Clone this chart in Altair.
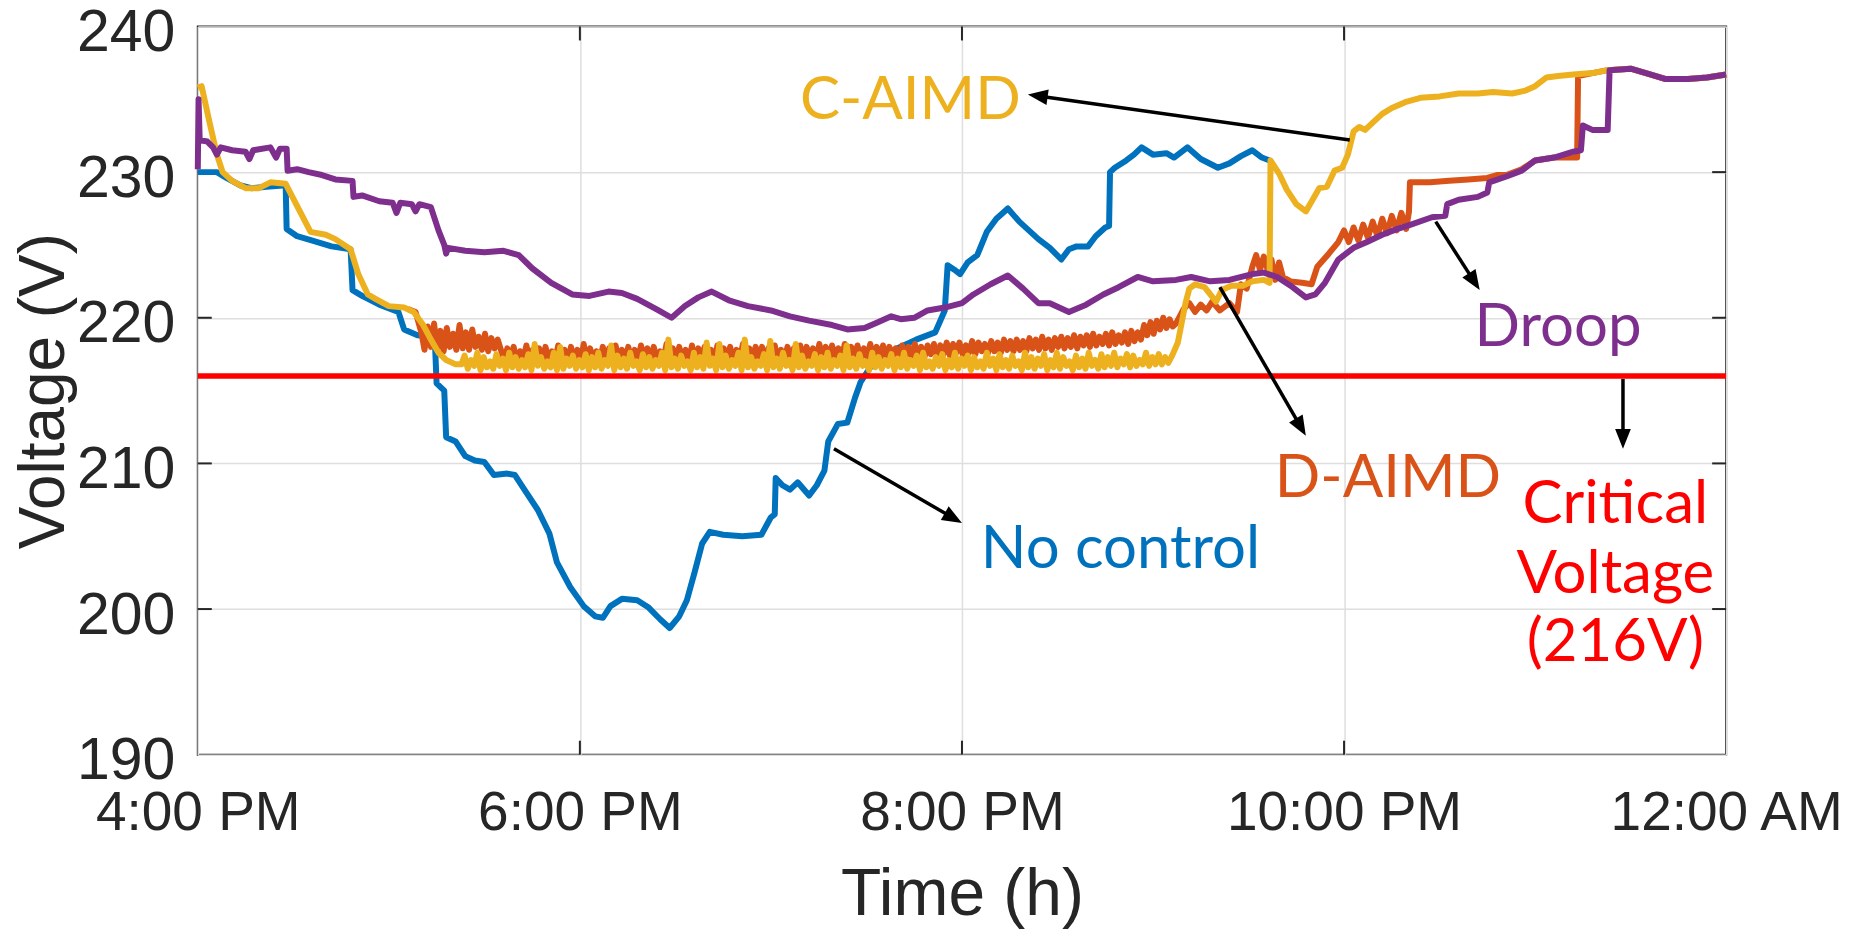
import math
import altair as alt
import pandas as pd

# ---------------- axis ticks ----------------
X_TICKS = [16, 18, 20, 22, 24]
X_TICK_LABELS = ["4:00 PM", "6:00 PM", "8:00 PM", "10:00 PM", "12:00 AM"]
Y_TICKS = [190, 200, 210, 220, 230, 240]
CRITICAL_V = 216.0

# ---------------- series (time in hours, voltage in V) ----------------
NO_CONTROL = [
    (16.00, 230.0), (16.10, 230.0), (16.15, 229.6), (16.22, 229.1), (16.28, 228.9), (16.36, 229.0),
    (16.46, 229.1), (16.465, 226.1), (16.52, 225.6), (16.60, 225.3), (16.70, 224.9), (16.80, 224.7),
    (16.81, 221.9), (16.86, 221.5), (16.95, 220.9), (17.05, 220.4), (17.08, 219.2), (17.15, 218.8),
    (17.24, 218.7), (17.25, 215.5), (17.29, 215.0), (17.30, 211.8), (17.35, 211.5), (17.40, 210.5),
    (17.45, 210.2), (17.50, 210.1), (17.55, 209.2), (17.62, 209.3), (17.66, 209.2), (17.72, 208.0),
    (17.78, 206.8), (17.84, 205.2), (17.88, 203.2), (17.95, 201.5), (18.02, 200.2), (18.08, 199.5),
    (18.12, 199.4), (18.16, 200.2), (18.22, 200.7), (18.30, 200.6), (18.36, 200.1), (18.42, 199.3),
    (18.47, 198.7), (18.52, 199.5), (18.56, 200.6), (18.60, 202.5), (18.64, 204.5), (18.68, 205.3),
    (18.75, 205.1), (18.85, 205.0), (18.95, 205.1), (19.00, 206.3), (19.02, 206.5), (19.025, 209.0),
    (19.06, 208.5), (19.10, 208.2), (19.14, 208.7), (19.20, 207.8), (19.24, 208.5), (19.28, 209.5),
    (19.30, 211.5), (19.35, 212.7), (19.40, 212.8), (19.44, 214.5), (19.47, 215.6), (19.52, 216.6),
    (19.58, 217.3), (19.66, 217.9), (19.76, 218.5), (19.86, 219.0), (19.91, 220.5), (19.925, 223.6),
    (19.96, 223.3), (19.99, 223.0), (20.03, 223.8), (20.08, 224.3), (20.13, 225.9), (20.18, 226.8),
    (20.24, 227.5), (20.30, 226.6), (20.35, 226.0), (20.40, 225.4), (20.46, 224.8), (20.52, 224.0),
    (20.56, 224.7), (20.60, 224.9), (20.66, 224.9), (20.70, 225.6), (20.75, 226.2), (20.77, 226.3),
    (20.775, 230.0), (20.80, 230.3), (20.86, 230.8), (20.90, 231.2), (20.94, 231.7), (21.00, 231.2),
    (21.07, 231.3), (21.11, 231.0), (21.18, 231.7), (21.25, 230.9), (21.34, 230.3), (21.40, 230.6),
    (21.46, 231.1), (21.52, 231.5), (21.57, 231.0), (21.61, 230.8),
]

NOISE_STEP = 1 / 60  # noisy stretches were read at 1-minute spacing

C_AIMD_HEAD = [
    (16.00, 235.8), (16.02, 235.9), (16.06, 233.5), (16.10, 231.2), (16.13, 230.0), (16.18, 229.4),
    (16.25, 228.9), (16.32, 228.9), (16.38, 229.3), (16.46, 229.2), (16.59, 225.9), (16.67, 225.7),
    (16.72, 225.4), (16.80, 224.7), (16.84, 223.0), (16.89, 221.6), (16.93, 221.3), (17.00, 220.8),
    (17.08, 220.7), (17.13, 220.4), (17.18, 219.5), (17.22, 218.5), (17.26, 217.6), (17.30, 217.1),
    (17.35, 216.8),
]
C_AIMD_NOISE_START = 17.38
C_AIMD_NOISE = [
    216.8, 217.4, 216.5, 217.1, 216.7, 217.6, 216.4, 217.3, 216.6, 217.0, 216.5, 217.5, 216.7, 217.2, 216.4, 217.6, 216.6, 217.3, 216.5, 217.1,
    216.6, 217.5, 216.4, 218.2, 216.7, 217.3, 216.5, 217.0, 216.6, 217.6, 216.4, 218.0, 216.5, 217.2, 216.7, 217.4, 216.5, 217.1, 216.6, 217.5,
    216.4, 217.3, 216.6, 217.6, 216.5, 217.1, 216.7, 218.1, 216.4, 217.4, 216.6, 217.2, 216.5, 217.6, 216.7, 217.0, 216.4, 217.5, 216.6, 217.3,
    216.5, 217.1, 216.7, 217.6, 216.4, 218.5, 216.6, 217.2, 216.5, 217.4, 216.7, 217.0, 216.4, 217.6, 216.6, 217.3, 216.5, 218.3, 216.7, 217.2,
    216.4, 218.2, 216.6, 217.4, 216.5, 217.1, 216.7, 217.6, 216.4, 218.5, 216.6, 217.3, 216.5, 217.0, 216.7, 217.5, 216.4, 218.4, 216.6, 217.2,
    216.5, 217.6, 216.7, 217.1, 216.4, 218.2, 216.6, 217.4, 216.5, 217.0, 216.7, 217.5, 216.4, 217.3, 216.6, 217.6, 216.5, 217.1, 216.7, 217.4,
    216.4, 218.1, 216.6, 217.2, 216.5, 217.5, 216.7, 217.0, 216.4, 217.6, 216.6, 217.3, 216.5, 217.1, 216.7, 217.5, 216.4, 217.2, 216.6, 217.6,
    216.5, 217.1, 216.7, 217.4, 216.4, 217.6, 216.6, 217.0, 216.5, 217.3, 216.7, 217.5, 216.4, 217.1, 216.6, 217.6, 216.5, 217.2, 216.7, 217.4,
    216.4, 217.3, 216.6, 217.0, 216.5, 217.6, 216.7, 217.2, 216.4, 217.5, 216.6, 217.1, 216.5, 217.4, 216.7, 217.0, 216.4, 217.6, 216.6, 217.3,
    216.5, 217.2, 216.7, 217.5, 216.4, 217.1, 216.6, 217.6, 216.5, 217.3, 216.7, 217.0, 216.4, 217.4, 216.6, 217.2, 216.5, 217.6, 216.7, 217.1,
    216.5, 217.5, 216.6, 217.3, 216.7, 217.6, 216.6, 217.2, 216.8, 217.5, 216.6, 217.4, 216.7, 217.1, 216.8, 217.6, 216.7, 217.3, 216.8, 217.5,
    216.8, 217.3, 216.9,
]
C_AIMD_TAIL = [
    (21.10, 217.4), (21.13, 218.3), (21.17, 221.0), (21.19, 222.0), (21.22, 222.3), (21.27, 222.1),
    (21.30, 221.6), (21.33, 221.1), (21.36, 221.9), (21.41, 222.2), (21.47, 222.2), (21.52, 222.5),
    (21.58, 222.6), (21.61, 222.4), (21.615, 230.8), (21.66, 229.9), (21.70, 228.8), (21.75, 227.8),
    (21.80, 227.3), (21.84, 228.2), (21.87, 228.9), (21.91, 229.0), (21.95, 230.1), (21.99, 230.3),
    (22.02, 231.2), (22.05, 232.8), (22.08, 233.1), (22.11, 232.9), (22.15, 233.4), (22.20, 234.0),
    (22.25, 234.4), (22.32, 234.8), (22.40, 235.1), (22.50, 235.2), (22.60, 235.4), (22.70, 235.4),
    (22.78, 235.5), (22.88, 235.4), (22.95, 235.6), (23.00, 235.9), (23.06, 236.5), (23.12, 236.6),
    (23.20, 236.7), (23.30, 236.8), (23.38, 237.0), (23.50, 237.1), (23.58, 236.8), (23.68, 236.4),
    (23.80, 236.4), (23.90, 236.5), (24.00, 236.7),
]

D_AIMD_HEAD = [(17.10, 220.6), (17.14, 220.4)]
D_AIMD_NOISE_START = 17.17
D_AIMD_NOISE = [
    219.0, 217.8, 219.4, 218.0, 219.6, 217.9, 219.1, 217.7, 219.3, 218.0, 218.9, 217.8, 219.5,
    217.9, 219.0, 217.8, 219.2, 218.0, 218.7, 217.8, 218.9, 217.7, 218.6, 217.9, 218.5, 217.8,
    217.0, 217.9, 217.2, 218.0, 216.9, 217.7, 217.1, 218.1, 217.0, 217.8, 217.2, 217.9, 216.9, 218.0, 217.1, 217.7, 217.0, 218.1, 217.2, 217.8,
    216.9, 218.0, 217.1, 217.8, 217.0, 218.2, 216.9, 217.9, 217.2, 217.7, 217.0, 218.0, 217.1, 217.9, 216.9, 218.1, 217.2, 217.8, 217.0, 218.0,
    217.1, 217.8, 217.0, 218.1, 217.2, 217.9, 216.9, 218.0, 217.1, 217.7, 217.0, 218.2, 217.2, 217.9, 217.0, 218.0, 217.1, 217.8, 216.9, 218.1,
    217.0, 217.9, 217.2, 218.0, 217.1, 217.8, 217.0, 218.1, 216.9, 217.9, 217.2, 218.0, 217.0, 217.8, 217.1, 218.2, 217.0, 217.9, 217.2, 218.0,
    217.1, 218.0, 217.0, 217.9, 217.2, 218.1, 217.1, 217.8, 217.0, 218.0, 217.2, 217.9, 217.1, 218.1, 217.0, 218.0, 217.2, 217.9, 217.1, 218.2,
    217.2, 218.0, 217.1, 218.1, 217.3, 217.9, 217.2, 218.2, 217.1, 218.0, 217.3, 218.1, 217.2, 217.9, 217.3, 218.2, 217.2, 218.0, 217.3, 218.1,
    217.2, 218.0, 217.3, 217.9, 217.2, 218.1, 217.4, 218.0, 217.3, 218.2, 217.4, 218.0, 217.3, 218.1, 217.5, 218.2, 217.4, 218.1, 217.5, 218.3,
    217.4, 218.2, 217.6, 218.3, 217.5, 218.1, 217.6, 218.4, 217.5, 218.3, 217.7, 218.2, 217.6, 218.4, 217.7, 218.3, 217.6, 218.5, 217.8, 218.4,
    217.7, 218.5, 217.8, 218.4, 217.7, 218.6, 217.9, 218.5, 217.8, 218.7, 217.9, 218.5, 217.8, 218.6, 218.0, 218.7, 217.9, 218.6, 218.0, 218.8,
    217.9, 218.7, 218.1, 218.8, 218.0, 218.9, 218.1, 218.7, 218.2, 218.9, 218.1, 219.0, 218.2, 218.8, 218.3, 219.0, 218.2, 219.1, 218.4, 219.0,
    218.5, 219.5, 218.8, 219.7, 218.9, 219.8, 219.2, 220.0, 219.3, 219.9, 219.4, 219.6,
]
D_AIMD_TAIL = [
    (21.16, 220.6), (21.19, 221.0), (21.22, 220.4), (21.25, 220.9), (21.28, 220.5), (21.31, 221.1),
    (21.35, 220.5), (21.40, 221.0), (21.44, 220.4), (21.46, 222.3), (21.49, 222.0), (21.52, 223.5),
    (21.54, 224.3), (21.56, 223.3), (21.58, 224.2), (21.60, 223.3), (21.62, 224.0), (21.64, 222.6),
    (21.66, 223.8), (21.68, 222.8), (21.72, 222.5), (21.78, 222.4), (21.83, 222.3), (21.86, 223.5),
    (21.92, 224.4), (21.97, 225.2), (22.00, 226.0), (22.025, 225.2), (22.05, 226.2), (22.075, 225.3),
    (22.10, 226.4), (22.125, 225.5), (22.15, 226.6), (22.175, 225.6), (22.20, 226.8), (22.225, 225.8),
    (22.25, 227.0), (22.275, 226.0), (22.30, 227.2), (22.325, 226.1), (22.34, 227.3), (22.345, 229.3),
    (22.45, 229.3), (22.55, 229.4), (22.65, 229.5), (22.75, 229.6), (22.80, 229.8), (22.85, 229.8),
    (22.93, 230.2), (23.00, 230.8), (23.10, 231.0), (23.22, 231.0), (23.225, 236.6), (23.30, 236.8),
    (23.38, 237.0), (23.50, 237.1), (23.58, 236.8), (23.68, 236.4), (23.80, 236.4), (23.90, 236.5),
    (24.00, 236.7),
]

DROOP = [
    (16.00, 230.2), (16.004, 235.0), (16.01, 232.2), (16.05, 232.1), (16.08, 231.7), (16.10, 231.2),
    (16.12, 231.7), (16.18, 231.5), (16.25, 231.4), (16.27, 230.9), (16.29, 231.5), (16.38, 231.7),
    (16.41, 231.0), (16.43, 231.6), (16.465, 231.6), (16.47, 230.1), (16.52, 230.2), (16.58, 230.0),
    (16.65, 229.8), (16.72, 229.5), (16.81, 229.4), (16.815, 228.3), (16.86, 228.4), (16.95, 228.0),
    (17.02, 227.9), (17.04, 227.2), (17.06, 227.9), (17.12, 227.8), (17.14, 227.3), (17.16, 227.8),
    (17.22, 227.6), (17.26, 226.0), (17.29, 225.0), (17.30, 224.4), (17.31, 224.8), (17.40, 224.6),
    (17.50, 224.5), (17.60, 224.6), (17.68, 224.3), (17.75, 223.4), (17.85, 222.4), (17.96, 221.6),
    (18.05, 221.5), (18.15, 221.8), (18.22, 221.7), (18.30, 221.3), (18.40, 220.6), (18.48, 220.0),
    (18.55, 220.8), (18.62, 221.4), (18.69, 221.8), (18.78, 221.2), (18.88, 220.8), (19.00, 220.5),
    (19.10, 220.1), (19.20, 219.8), (19.32, 219.5), (19.40, 219.2), (19.49, 219.3), (19.56, 219.7),
    (19.63, 220.1), (19.68, 219.9), (19.75, 220.0), (19.82, 220.5), (19.91, 220.7), (20.00, 221.0),
    (20.06, 221.6), (20.15, 222.3), (20.24, 222.9), (20.32, 222.0), (20.40, 221.0), (20.46, 221.0),
    (20.56, 220.4), (20.65, 220.9), (20.74, 221.6), (20.82, 222.1), (20.92, 222.8), (21.00, 222.5),
    (21.12, 222.6), (21.20, 222.8), (21.30, 222.5), (21.40, 222.6), (21.52, 223.0), (21.58, 223.1),
    (21.65, 222.8), (21.72, 222.2), (21.80, 221.4), (21.85, 221.6), (21.90, 222.4), (21.97, 224.0),
    (22.05, 224.8), (22.12, 225.2), (22.20, 225.7), (22.28, 226.1), (22.35, 226.4), (22.46, 226.9),
    (22.53, 227.0), (22.54, 227.8), (22.60, 228.1), (22.70, 228.3), (22.75, 228.6), (22.76, 229.3),
    (22.85, 229.7), (22.93, 230.1), (23.00, 230.8), (23.10, 231.0), (23.20, 231.4), (23.24, 231.5),
    (23.25, 233.2), (23.30, 232.9), (23.38, 232.9), (23.39, 237.0), (23.50, 237.1), (23.58, 236.8),
    (23.68, 236.4), (23.80, 236.4), (23.90, 236.5), (24.00, 236.7),
]

# ---------------- annotations ----------------
ANNOT_TEXT = ["C-AIMD", "No control", "D-AIMD", "Droop", "Critical", "Voltage", "(216V)"]
ANNOT_T = [19.73, 20.83, 22.23, 23.12, 23.42, 23.42, 23.42]
ANNOT_V = [233.65, 202.84, 207.7, 218.07, 205.9, 201.1, 196.4]
ANNOT_SERIES = ["C-AIMD", "No control", "D-AIMD", "Droop", "Critical", "Critical", "Critical"]

# arrows: start (t, V) -> head (t, V)
ARROW_START = [(22.03, 232.2), (19.33, 211.0), (21.35, 222.1), (22.48, 226.6), (23.46, 215.8)]
ARROW_END = [(20.345, 235.33), (20.0, 205.9), (21.80, 211.9), (22.71, 221.9), (23.46, 211.0)]

COLORS = {
    "No control": "#0072BD",
    "D-AIMD": "#D95319",
    "C-AIMD": "#EDB120",
    "Droop": "#7E2F8E",
    "Critical": "#FF0000",
}

# ---------------- layout ----------------
W, H = 1530, 729
T_DOM = [16, 24]
V_DOM = [190, 240]
PX_PER_H = W / (T_DOM[1] - T_DOM[0])
PX_PER_V = H / (V_DOM[1] - V_DOM[0])
AXIS_COLOR = "#262626"
LINE_W = 6


def build(head, noise_start=None, noise=None, tail=None):
    pts = list(head)
    if noise is not None:
        pts += [(noise_start + i * NOISE_STEP, v) for i, v in enumerate(noise)]
    if tail is not None:
        pts += list(tail)
    return pd.DataFrame({"t": [p[0] for p in pts], "v": [p[1] for p in pts],
                         "i": list(range(len(pts)))})


df_blue = build(NO_CONTROL)
df_orange = build(D_AIMD_HEAD, D_AIMD_NOISE_START, D_AIMD_NOISE, D_AIMD_TAIL)
df_yellow = build(C_AIMD_HEAD, C_AIMD_NOISE_START, C_AIMD_NOISE, C_AIMD_TAIL)
df_purple = build(DROOP)
df_red = pd.DataFrame({"t": T_DOM, "v": [CRITICAL_V, CRITICAL_V], "i": [0, 1]})

label_expr = "'" + X_TICK_LABELS[-1] + "'"
for val, lab in reversed(list(zip(X_TICKS[:-1], X_TICK_LABELS[:-1]))):
    label_expr = f"datum.value == {val} ? '{lab}' : {label_expr}"

x_axis = alt.Axis(values=X_TICKS, labelExpr=label_expr, title="Time (h)", ticks=False, tickSize=0,
                  domain=False, grid=True, labelFontSize=55, labelPadding=75, labelLimit=0,
                  labelBaseline="alphabetic", labelOverlap=False, labelFlush=False,
                  titleFontSize=66, titleY=160, titleBaseline="alphabetic")
y_axis = alt.Axis(values=Y_TICKS, title="Voltage (V)", ticks=False, tickSize=0, domain=False,
                  grid=True, labelFontSize=59, labelPadding=23, labelBaseline="alphabetic",
                  labelOffset=24, labelLimit=0,
                  labelOverlap=False, labelFlush=False, titleFontSize=64, titleAngle=270,
                  titleX=-134, titleY=H / 2, titleAlign="center", titleBaseline="alphabetic")

X = alt.X("t:Q", scale=alt.Scale(domain=T_DOM, nice=False, zero=False), axis=x_axis)
Y = alt.Y("v:Q", scale=alt.Scale(domain=V_DOM, nice=False, zero=False), axis=y_axis)


def line(df, color, width=LINE_W):
    return alt.Chart(df).mark_line(color=color, strokeWidth=width, strokeJoin="round").encode(
        x=X, y=Y, order="i:Q")


# inward tick marks on all four sides (MATLAB box style)
TICK_LEN = 14
dt = TICK_LEN / PX_PER_H
dv = TICK_LEN / PX_PER_V
tick_rows = []
for tv in X_TICKS[1:-1]:
    tick_rows.append({"t": tv, "v": V_DOM[0], "t2": tv, "v2": V_DOM[0] + dv})
    tick_rows.append({"t": tv, "v": V_DOM[1], "t2": tv, "v2": V_DOM[1] - dv})
for vv in Y_TICKS[1:-1]:
    tick_rows.append({"t": T_DOM[0], "v": vv, "t2": T_DOM[0] + dt, "v2": vv})
    tick_rows.append({"t": T_DOM[1], "v": vv, "t2": T_DOM[1] - dt, "v2": vv})
ticks = alt.Chart(pd.DataFrame(tick_rows)).mark_rule(color=AXIS_COLOR, strokeWidth=2).encode(
    x=X, y=Y, x2="t2:Q", y2="v2:Q")

# arrows
HEAD_LEN = 16
arrow_rows, head_rows = [], []
for (t1, v1), (t2, v2) in zip(ARROW_START, ARROW_END):
    dx = (t2 - t1) * PX_PER_H
    dy = -(v2 - v1) * PX_PER_V
    L = math.hypot(dx, dy)
    ux, uy = dx / L, dy / L
    ang = math.degrees(math.atan2(ux, -uy)) % 360
    te = t2 - ux * HEAD_LEN / PX_PER_H
    ve = v2 + uy * HEAD_LEN / PX_PER_V
    arrow_rows.append({"t": t1, "v": v1, "t2": te, "v2": ve})
    head_rows.append({"t": t2, "v": v2, "ang": ang})

arrows = alt.Chart(pd.DataFrame(arrow_rows)).mark_rule(color="black", strokeWidth=3.5).encode(
    x=X, y=Y, x2="t2:Q", y2="v2:Q")
heads = alt.Chart(pd.DataFrame(head_rows)).mark_point(
    shape="M0,0L0.75,1.9L-0.75,1.9Z", filled=True, color="black", opacity=1, size=440,
    strokeWidth=0).encode(x=X, y=Y, angle=alt.Angle("ang:Q", scale=None))

df_text = pd.DataFrame({"t": ANNOT_T, "v": ANNOT_V, "label": ANNOT_TEXT,
                        "c": [COLORS[s] for s in ANNOT_SERIES]})
texts = alt.Chart(df_text).mark_text(font="Lato", fontSize=60, align="center",
                                     baseline="alphabetic").encode(
    x=X, y=Y, text="label:N", color=alt.Color("c:N", scale=None))

chart = alt.layer(
    ticks,
    line(df_blue, COLORS["No control"]),
    line(df_orange, COLORS["D-AIMD"]),
    line(df_yellow, COLORS["C-AIMD"]),
    line(df_purple, COLORS["Droop"]),
    line(df_red, COLORS["Critical"], 5.5),
    arrows,
    heads,
    texts,
).properties(
    width=W, height=H,
    padding={"left": 190, "top": 18, "right": 125, "bottom": 178},
    autosize=alt.AutoSizeParams(type="none"),
).configure_view(
    stroke=AXIS_COLOR, strokeWidth=2
).configure_axis(
    gridColor="#dedede", gridWidth=1.5, labelFont="Liberation Sans", titleFont="Liberation Sans",
    labelColor=AXIS_COLOR, titleColor=AXIS_COLOR, titleFontWeight="normal"
)

chart.save("out.html", embed_options={"renderer": "svg", "actions": False})
